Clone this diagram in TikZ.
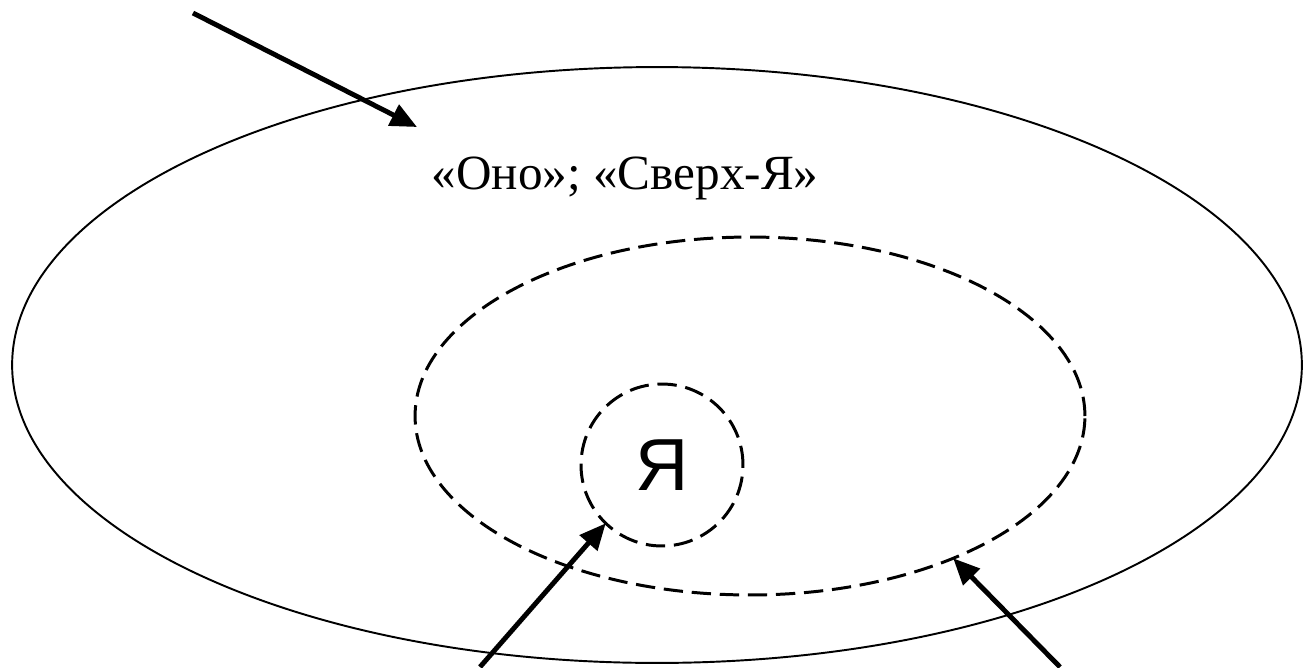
\documentclass[tikz,border=0pt]{standalone}
\usepackage{fontspec}
\setmainfont{Liberation Serif}
\newfontfamily\sansja{Liberation Sans}
\usetikzlibrary{arrows.meta,shapes.geometric}
\tikzset{
  ptr/.style={line width=2.8pt,-{Triangle[length=15pt,width=13pt]}},
  dashline/.style={line width=1.7pt,dash pattern=on 11pt off 5pt},
}

\begin{document}
\begin{tikzpicture}[x=0.02cm,y=-0.02cm]
\useasboundingbox (0,0) rectangle (1303,667);

\node[draw,ellipse,line width=1.1pt,inner sep=0pt,outer sep=0pt,
      minimum width=25.8cm,minimum height=11.92cm] (ono) at (657,365) {};
\node[draw,ellipse,dashline,inner sep=0pt,outer sep=0pt,
      minimum width=13.4cm,minimum height=7.16cm] (mid) at (750,416) {};
\node[draw,circle,dashline,inner sep=0pt,outer sep=0pt,minimum size=3.24cm,
      font=\sansja\fontsize{42}{44}\selectfont] (ja) at (662,465) {Я};

\node[font=\fontsize{28}{32}\selectfont] (lbl) at (625,178) {«Оно»; «Сверх-Я»};

\coordinate (tl) at (193,13);
\coordinate (tltip) at (417,127);
\coordinate (bl) at (480,667);
\coordinate (br) at (1060,667);

\draw[ptr] (tl) -- (tltip);
\draw[ptr] (bl) -- (ja.226);
\draw[ptr] (br) -- (mid.-35);

\end{tikzpicture}
\end{document}
